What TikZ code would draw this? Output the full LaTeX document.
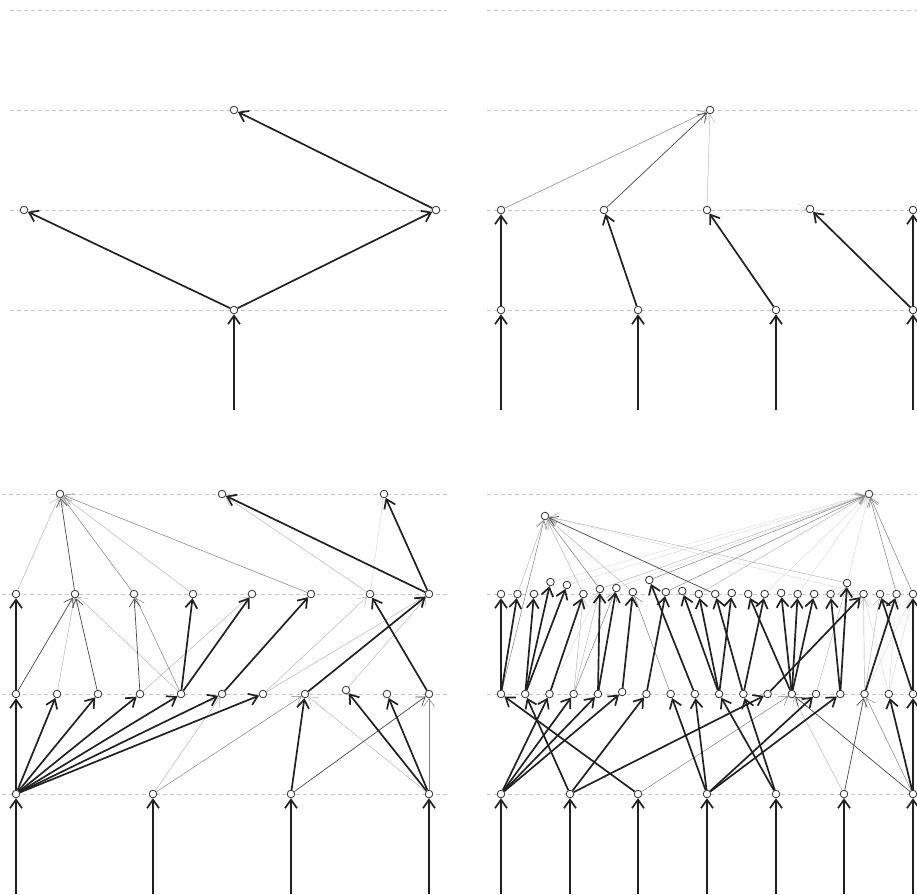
\documentclass[tikz,border=0pt]{standalone}
\usetikzlibrary{arrows.meta}
\pgfdeclarelayer{bg}
\pgfsetlayers{bg,main}
\begin{document}
\begin{tikzpicture}[x=1pt,y=-1pt,
  vtx/.style={circle,draw=black!82,fill=white,line width=0.8pt,inner sep=0pt,minimum size=7.6pt},
  gridl/.style={draw=black!22,dash pattern=on 4pt off 3pt,line width=0.6pt},
  thk/.style={draw=black!87,line width=1.7pt,-{Straight Barb[length=8.5pt,width=12pt]}},
  dk/.style={draw=black!72,line width=0.7pt,-{Straight Barb[length=8pt,width=11pt]}},
  md/.style={draw=black!50,line width=0.5pt,-{Straight Barb[length=8pt,width=11pt]}},
  lt/.style={draw=black!30,line width=0.45pt,-{Straight Barb[length=8pt,width=11pt]}},
  vlt/.style={draw=black!16,line width=0.4pt,-{Straight Barb[length=8pt,width=11pt]}}]
\useasboundingbox (0,0) rectangle (917,894);

% ---------------- top-left ----------------
\node[vtx] (tla) at (234,110) {};
\node[vtx] (tlb0) at (24,210) {};
\node[vtx] (tlb1) at (436,210) {};
\node[vtx] (tlc) at (234,310) {};
\coordinate (tli) at (234,410);

% ---------------- top-right ----------------
\node[vtx] (tra) at (710,110) {};
\foreach \i/\x/\y in {0/501/210,1/604/210,2/707/210,3/810/209,4/913/210}
  \node[vtx] (trb\i) at (\x,\y) {};
\foreach \i/\x in {0/501,1/638,2/776,3/913}{
  \node[vtx] (trc\i) at (\x,310) {};
  \coordinate (tri\i) at (\x,410);}

% ---------------- bottom-left ----------------
\foreach \i/\x in {0/16,1/153,2/291,3/429}{
  \node[vtx] (L3\i) at (\x,794) {};
  \coordinate (Li\i) at (\x,894);}
\foreach \i/\x/\y in {0/16/694,1/57/694,2/98/694,3/140/694,4/181/694,5/222/694,6/263/694,7/305/694,8/346/690,9/387/694,10/429/694}
  \node[vtx] (L2\i) at (\x,\y) {};
\foreach \i/\x in {0/16,1/75,2/134,3/193,4/252,5/311,6/370,7/429}
  \node[vtx] (L1\i) at (\x,594) {};
\foreach \i/\x in {0/60,1/222,2/384}
  \node[vtx] (L0\i) at (\x,494) {};

% ---------------- bottom-right ----------------
\foreach \i/\x in {0/501,1/570,2/638,3/707,4/776,5/844,6/913}{
  \node[vtx] (c\i) at (\x,794) {};
  \coordinate (ci\i) at (\x,894);}
\foreach \i/\y in {0/694,1/694,2/694,3/694,4/694,5/692,6/694,7/694,8/694,9/694,10/694,11/694,12/694,13/694,14/694,15/694,16/694,17/694}
  \node[vtx] (b\i) at ({501+24.235*\i},\y) {};
\foreach \i/\y in {0/594,1/594,2/594,3/582,4/585,5/594,6/589,7/588,8/592,9/580,10/592,11/591,12/594,13/594,14/593,15/594,16/594,17/593,18/594,19/594,20/594,21/583,22/594,23/594,24/594,25/594}
  \node[vtx] (a\i) at ({501+16.48*\i},\y) {};
\node[vtx] (T0) at (545,516) {};
\node[vtx] (T1) at (869,494) {};

\begin{pgfonlayer}{bg}
% grid lines
\foreach \y in {10,110,210,310}{
  \draw[gridl] (10,\y) -- (447,\y);
  \draw[gridl] (487,\y) -- (917,\y);}
\foreach \y in {494,594,694,794}{
  \draw[gridl] (2,\y) -- (447,\y);
  \draw[gridl] (487,\y) -- (917,\y);}

% top-left
\foreach \s/\t in {tli/tlc,tlc/tlb0,tlc/tlb1,tlb1/tla}
  \draw[thk] (\s) -- (\t);

% top-right
\draw[md] (trb0) -- (tra);
\draw[dk] (trb1) -- (tra);
\draw[lt] (trb2) -- (tra);
\draw[vlt] (trb2) -- (trb3);
\foreach \s/\t in {tri0/trc0,tri1/trc1,tri2/trc2,tri3/trc3,trc0/trb0,trc1/trb1,trc2/trb2,trc3/trb3,trc3/trb4}
  \draw[thk] (\s) -- (\t);

% bottom-left thin
\foreach \s/\t in {L31/L25,L33/L27,L21/L11,L24/L11,L26/L16,L26/L17,L28/L17,L10/L00,L13/L00,L16/L01,L23/L14}
  \draw[lt] (\s) -- (\t);
\foreach \s/\t in {L16/L02}
  \draw[vlt] (\s) -- (\t);
\foreach \s/\t in {L31/L27,L24/L12,L12/L00,L15/L00,L33/L210}
  \draw[md] (\s) -- (\t);
\foreach \s/\t in {L32/L210,L20/L11,L22/L11,L23/L12,L11/L00}
  \draw[dk] (\s) -- (\t);
% bottom-left thick
\foreach \s/\t in {Li0/L30,Li1/L31,Li2/L32,Li3/L33,
  L30/L20,L30/L21,L30/L22,L30/L23,L30/L24,L30/L25,L30/L26,
  L32/L27,L33/L28,L33/L29,
  L20/L10,L24/L13,L24/L14,L25/L15,L27/L17,L210/L16,
  L17/L01,L17/L02}
  \draw[thk] (\s) -- (\t);

% bottom-right thin
\foreach \s/\t in {b2/a6,b16/a22,b16/a24,b15/a25,b16/a25,a22/T0,a3/T1,a4/T1,a7/T1,a16/T1,a18/T1,a21/T1}
  \draw[vlt] (\s) -- (\t);
\foreach \s/\t in {c5/b12,b3/a5,b3/a6,b15/a22,b15/a23,b13/a21,a1/T0,a5/T0,a8/T0,a21/T0,a6/T1,a12/T1}
  \draw[lt] (\s) -- (\t);
\foreach \s/\t in {c2/b12,c6/b15,b3/a7,b7/a8,b0/T0,a6/T0,a9/T1,a10/T1,a24/T1,a25/T1}
  \draw[md] (\s) -- (\t);
\foreach \s/\t in {c5/b15,c6/b12,a13/T0}
  \draw[dk] (\s) -- (\t);
% bottom-right thick
\foreach \s/\t in {ci0/c0,ci1/c1,ci2/c2,ci3/c3,ci4/c4,ci5/c5,ci6/c6,
  c0/b2,c0/b3,c0/b4,c0/b5,c1/b1,c1/b6,c1/b11,c2/b0,c3/b7,c3/b8,c3/b13,c3/b14,
  c4/b9,c4/b10,c6/b16,c6/b17,
  b0/a0,b0/a1,b1/a2,b1/a3,b1/a4,b2/a5,b4/a6,b4/a7,b5/a8,b6/a10,b8/a9,
  b9/a11,b9/a12,b9/a14,b10/a13,b10/a16,b12/a15,b12/a17,b12/a18,b12/a19,
  b14/a20,b14/a21,b11/a22,b15/a24,b17/a23,b17/a25}
  \draw[thk] (\s) -- (\t);
\end{pgfonlayer}
\end{tikzpicture}
\end{document}
